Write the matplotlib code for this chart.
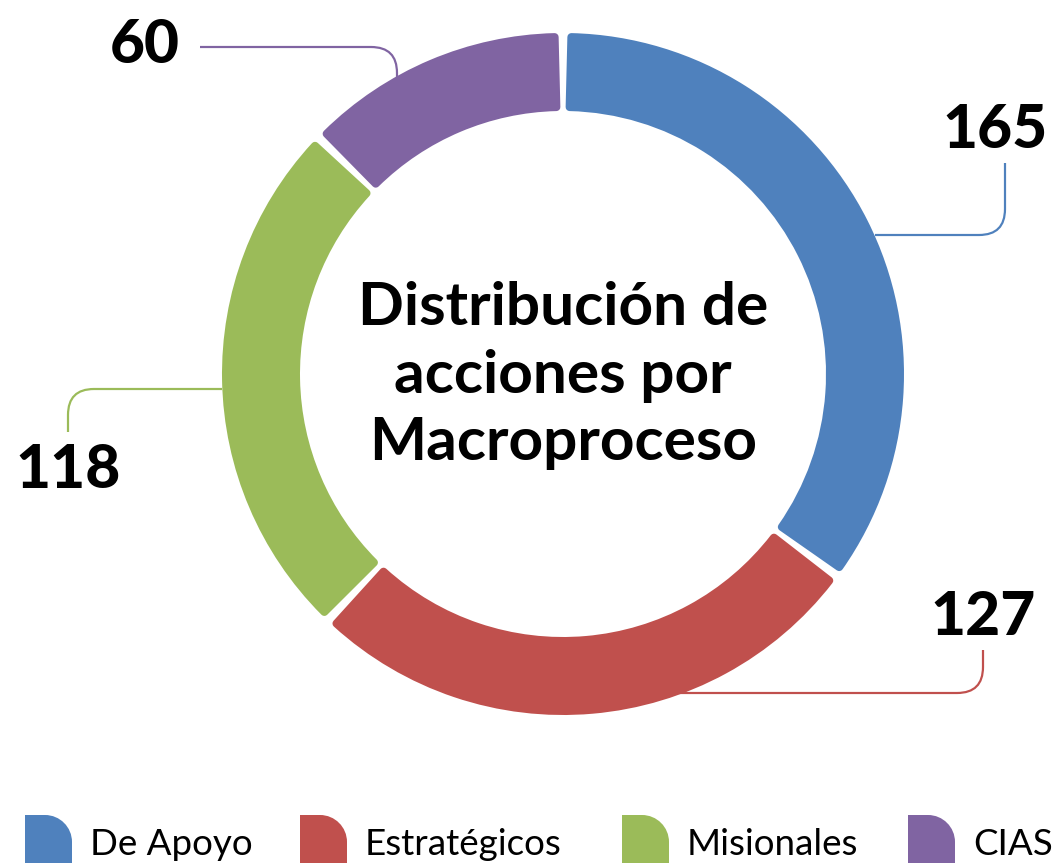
import matplotlib
matplotlib.use("Agg")
import matplotlib.pyplot as plt
from matplotlib.path import Path
from matplotlib.patches import PathPatch
import numpy as np

categories = ["De Apoyo", "Estratégicos", "Misionales", "CIAS"]
values = [165, 127, 118, 60]
colors = ["#4F81BD", "#C0504D", "#9BBB59", "#8064A2"]
title_lines = ["Distribución de", "acciones por", "Macroproceso"]

W, H = 1057, 863
DPI = 100
fig = plt.figure(figsize=(W / DPI, H / DPI), dpi=DPI)
ax = fig.add_axes([0, 0, 1, 1])

def Y(y):  # image y (top-down) -> data y
    return H - y

cx, cy = 563, Y(374)
R_out, ring = 341, 78
corner = 4
gap_px = 7

wedges, _ = ax.pie(values, colors=colors, startangle=90, counterclock=False,
                   center=(cx, cy), radius=R_out - corner,
                   wedgeprops=dict(width=ring - 2 * corner))
r_mid = R_out - ring / 2
dtheta = np.degrees((gap_px + 2 * corner) / r_mid) / 2
for w, c in zip(wedges, colors):
    w.set_theta1(w.theta1 + dtheta)
    w.set_theta2(w.theta2 - dtheta)
    w.set_edgecolor(c)
    w.set_linewidth(2 * corner * 72 / DPI)
    w.set_joinstyle("round")

ax.set_xlim(0, W)
ax.set_ylim(0, H)
ax.set_aspect("auto")
ax.axis("off")

# centre title
for line, yb in zip(title_lines, [325, 393, 460]):
    ax.text(cx, Y(yb), line, ha="center", va="baseline", fontsize=43.5,
            fontweight="bold", family="Lato", color="black")

# value labels with leader lines
lw = 2.2 * 72 / DPI
def leader(pts, color, rad=18):
    pts = [np.array(p, float) for p in pts]
    verts = [pts[0]]
    codes = [Path.MOVETO]
    for i in range(1, len(pts) - 1):
        p0, p1, p2 = pts[i - 1], pts[i], pts[i + 1]
        d1 = (p1 - p0) / np.linalg.norm(p1 - p0)
        d2 = (p2 - p1) / np.linalg.norm(p2 - p1)
        verts += [p1 - d1 * rad, p1, p1 + d2 * rad]
        codes += [Path.LINETO, Path.CURVE3, Path.CURVE3]
    verts.append(pts[-1])
    codes.append(Path.LINETO)
    verts = [(v[0], Y(v[1])) for v in verts]
    ax.add_patch(PathPatch(Path(verts, codes), fill=False, edgecolor=color,
                           lw=lw, capstyle="butt"))

label_pos = [(995, 130), (983, 617), (68, 470), (145, 45)]
leaders = [
    [(1005, 163), (1005, 235), (875, 235)],
    [(983, 650), (983, 693), (678, 693)],
    [(222, 389), (68, 389), (68, 432)],
    [(200, 47), (397, 47), (397, 77)],
]
for v, c, (lx, ly), pts in zip(values, colors, label_pos, leaders):
    ax.text(lx, Y(ly), str(v), ha="center", va="center", fontsize=43.5,
            fontweight="black", family="Lato", color="black")
    leader(pts, c, rad=26)

# legend
marker_x = [25, 300, 622, 908]
mw, top, r = 47, 815, 27
k = 0.5523
for cat, c, x in zip(categories, colors, marker_x):
    x0, x1 = x, x + mw
    verts = [(x0, H + 5), (x0, top), (x1 - r, top),
             (x1 - r + k * r, top), (x1, top + r - k * r), (x1, top + r),
             (x1, H + 5), (x0, H + 5)]
    codes = [Path.MOVETO, Path.LINETO, Path.LINETO,
             Path.CURVE4, Path.CURVE4, Path.CURVE4,
             Path.LINETO, Path.CLOSEPOLY]
    ax.add_patch(PathPatch(Path([(vx, Y(vy)) for vx, vy in verts], codes),
                           facecolor=c, edgecolor="none"))
    ax.text(x + 65, Y(855), cat, ha="left", va="baseline", fontsize=26.5,
            family="Lato", color="black")

fig.savefig("out.png", dpi=DPI, facecolor="white")
